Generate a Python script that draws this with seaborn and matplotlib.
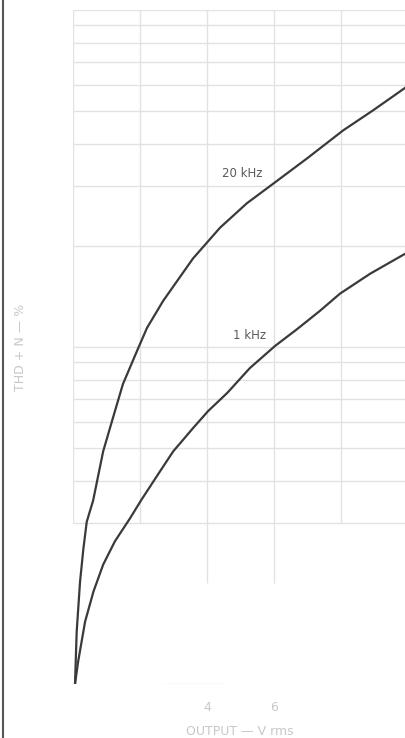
import numpy as np
import pandas as pd
import seaborn as sns
import matplotlib.pyplot as plt
from matplotlib.lines import Line2D

# values (output in V rms, THD+N in %)
x_20k = [0.06, 0.11, 0.21, 0.31, 0.41, 0.60, 0.90, 1.19, 1.49, 1.91, 2.21,
         2.69, 3.58, 4.39, 5.19, 6.03, 6.99, 8.06, 8.96, 9.94]
y_20k = [0.10, 0.143, 0.201, 0.252, 0.303, 0.35, 0.49, 0.615, 0.776, 0.973, 1.14,
         1.37, 1.83, 2.26, 2.67, 3.08, 3.63, 4.39, 5.04, 5.90]

x_1k = [0.06, 0.15, 0.36, 0.61, 0.90, 1.25, 1.70, 2.05, 2.60, 2.99, 3.58, 4.03,
        4.60, 5.28, 6.03, 6.69, 7.37, 7.97, 8.87, 9.91]
y_1k = [0.10, 0.116, 0.153, 0.188, 0.226, 0.265, 0.310, 0.353, 0.428, 0.49, 0.574, 0.645,
        0.73, 0.866, 1.007, 1.13, 1.28, 1.44, 1.65, 1.89]

curve_labels = ["20 kHz", "1 kHz"]
label_pos = [(5.05, 3.27), (5.28, 1.08)]

xtick_pos = [0, 2, 4, 6, 8]
xtick_labels = ["", "", "4", "6", ""]

df = pd.concat([
    pd.DataFrame({"output": x_20k, "thd": y_20k, "freq": "20 kHz"}),
    pd.DataFrame({"output": x_1k, "thd": y_1k, "freq": "1 kHz"}),
])

sns.set_style("white")
plt.rcParams['font.family'] = ['DejaVu Sans']

fig = plt.figure(figsize=(4.06, 7.38), dpi=100)
ax = fig.add_axes([73 / 406, 1 - 684 / 738, 1 - 73 / 406, (684 - 10) / 738])
ax.set_yscale("log")
ax.set_xlim(0, 9.94)
ax.set_ylim(0.1, 10)

# faded grid of the scan
grid_c = "#e2e2e2"
hvals = list(np.arange(3, 10) / 10) + list(np.arange(1, 11))
ax.hlines(hvals, 0, 9.94, color=grid_c, lw=1.0, zorder=0)
ax.vlines(xtick_pos, 0.3, 10, color=grid_c, lw=1.0, zorder=0)
ax.vlines([4, 6], 0.2, 0.3, color=grid_c, lw=1.0, zorder=0)
ax.hlines([0.1], 2.7, 4.6, color="#e6e8dc", lw=1.0, zorder=0)

sns.lineplot(data=df, x="output", y="thd", hue="freq", units="freq",
             estimator=None, sort=False, palette=["#3a3a38", "#3a3a38"],
             linewidth=1.6, legend=False, ax=ax)

for lab, (lx, ly) in zip(curve_labels, label_pos):
    ax.text(lx, ly, lab, ha="center", va="center", fontsize=8.5, color="#5a5a5a")

for s in ax.spines.values():
    s.set_visible(False)
ax.set_xticks(xtick_pos)
ax.set_xticklabels(xtick_labels, color="#c8c8c8", fontsize=9)
ax.set_yticks([])
ax.minorticks_off()
ax.tick_params(axis="x", length=0, pad=12)
ax.set_xlabel("OUTPUT — V rms", color="#c8c8c8", fontsize=9, labelpad=8)
ax.set_ylabel("THD + N — %", color="#c8c8c8", fontsize=9, labelpad=33)

# left edge of the scanned page
fig.add_artist(Line2D([3.5 / 406, 3.5 / 406], [0, 1], color="#555555", lw=1.5))

fig.savefig("out.png", dpi=100)
